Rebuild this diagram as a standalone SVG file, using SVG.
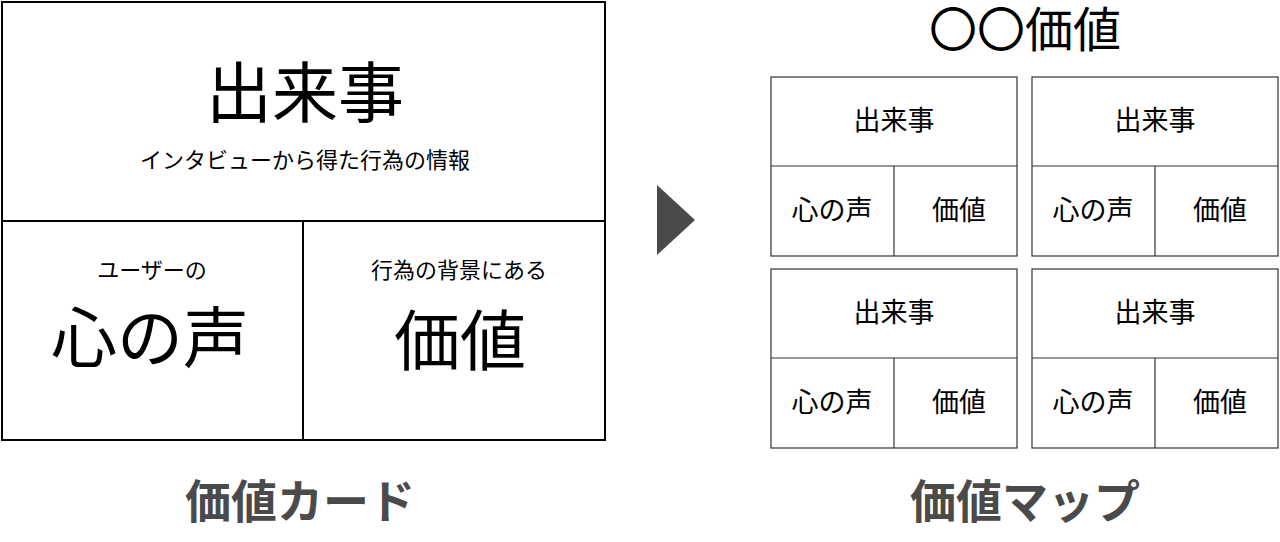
<svg xmlns="http://www.w3.org/2000/svg" width="1280" height="542" viewBox="0 0 1280 542">
<style>
text{font-family:"Noto Sans CJK JP","Noto Sans CJK SC",sans-serif;text-anchor:middle;fill:#000}
.big{stroke:#000;stroke-width:2;fill:#fff}
.bl{stroke:#000;stroke-width:2}
.sm{stroke:#333;stroke-width:1.2;fill:#fff}
.sl{stroke:#333;stroke-width:1.2}
.t68{font-size:66px}
.t20{font-size:22px}
.t26{font-size:27px}
.foot{font-size:46px;font-weight:bold;fill:#4a4a4a}
</style>
<rect width="1280" height="542" fill="#fff"/>
<g id="card">
<rect class="big" x="2" y="2" width="603" height="438"/>
<line class="bl" x1="2" y1="221" x2="605" y2="221"/>
<line class="bl" x1="303" y1="221" x2="303" y2="440"/>
<text class="t68" x="305" y="117">出来事</text>
<text class="t20" x="305" y="168">インタビューから得た行為の情報</text>
<text class="t20" x="152" y="278">ユーザーの</text>
<text class="t68" x="150" y="362">心の声</text>
<text class="t20" x="459" y="278">行為の背景にある</text>
<text class="t68" x="460" y="365">価値</text>
</g>
<g id="arrow">
<polygon points="657,185 695,220 657,255" fill="#4a4a4a"/>
</g>
<g id="map-title">
<text x="1025" y="47" font-size="48">〇〇価値</text>
</g>
<g id="card-1">
<rect class="sm" x="771" y="77" width="246" height="179"/>
<line class="sl" x1="771" y1="166" x2="1017" y2="166"/>
<line class="sl" x1="894" y1="166" x2="894" y2="256"/>
<text class="t26" x="894" y="130">出来事</text>
<text class="t26" x="832" y="220">心の声</text>
<text class="t26" x="959" y="220">価値</text>
</g>
<g id="card-2">
<rect class="sm" x="1032" y="77" width="246" height="179"/>
<line class="sl" x1="1032" y1="166" x2="1278" y2="166"/>
<line class="sl" x1="1155" y1="166" x2="1155" y2="256"/>
<text class="t26" x="1155" y="130">出来事</text>
<text class="t26" x="1093" y="220">心の声</text>
<text class="t26" x="1220" y="220">価値</text>
</g>
<g id="card-3">
<rect class="sm" x="771" y="269" width="246" height="179"/>
<line class="sl" x1="771" y1="358" x2="1017" y2="358"/>
<line class="sl" x1="894" y1="358" x2="894" y2="448"/>
<text class="t26" x="894" y="322">出来事</text>
<text class="t26" x="832" y="412">心の声</text>
<text class="t26" x="959" y="412">価値</text>
</g>
<g id="card-4">
<rect class="sm" x="1032" y="269" width="246" height="179"/>
<line class="sl" x1="1032" y1="358" x2="1278" y2="358"/>
<line class="sl" x1="1155" y1="358" x2="1155" y2="448"/>
<text class="t26" x="1155" y="322">出来事</text>
<text class="t26" x="1093" y="412">心の声</text>
<text class="t26" x="1220" y="412">価値</text>
</g>
<g id="labels">
<text class="foot" x="300" y="518">価値カード</text>
<text class="foot" x="1025" y="518">価値マップ</text>
</g>
</svg>
